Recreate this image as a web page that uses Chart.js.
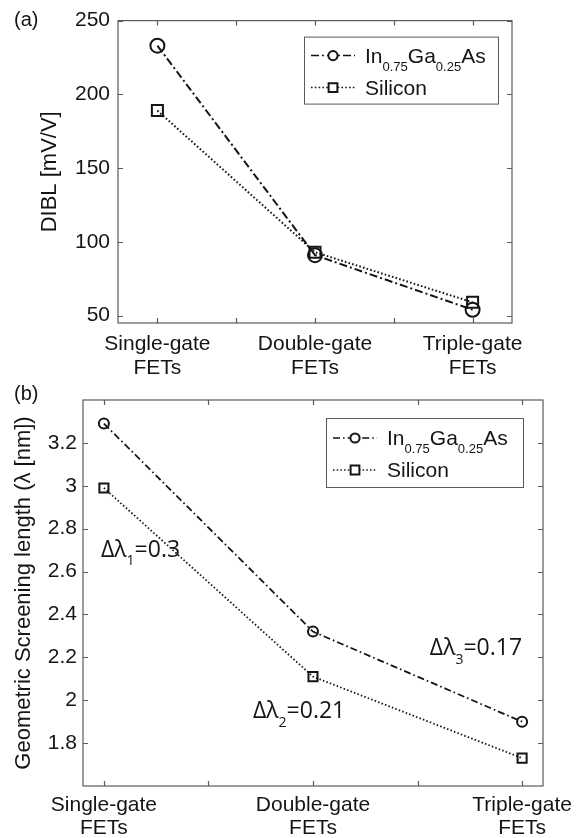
<!DOCTYPE html>
<html>
<head>
<meta charset="utf-8">
<script src="https://cdn.jsdelivr.net/npm/chart.js@4.4.1/dist/chart.umd.min.js"></script>
<style>
  html, body { margin: 0; padding: 0; background: #fff; }
  #wrap { position: relative; width: 583px; height: 838px; }
  .panel { position: absolute; left: 0; width: 583px; }
  #pa { top: 0; height: 380px; }
  #pb { top: 380px; height: 458px; }
</style>
</head>
<body>
<div id="wrap">
  <div class="panel" id="pa"><canvas id="diblChart"></canvas></div>
  <div class="panel" id="pb"><canvas id="lambdaChart"></canvas></div>
</div>
<script>
// device types, placed at x = 1, 2, 3
const devices = [['Single-gate', 'FETs'], ['Double-gate', 'FETs'], ['Triple-gate', 'FETs']];
const seriesNames = ['In0.75Ga0.25As', 'Silicon'];
const xTicks = [1, 1.5, 2, 2.5, 3];

// (a) DIBL [mV/V]
const diblInGaAs = [233, 91, 54];
const diblSilicon = [189, 93, 59];
const diblTicks = [50, 100, 150, 200, 250];

// (b) geometric screening length [nm]
const lambdaInGaAs = [3.29, 2.32, 1.90];
const lambdaSilicon = [2.99, 2.11, 1.73];
const lambdaTicks = [1.8, 2, 2.2, 2.4, 2.6, 2.8, 3, 3.2];

const FONT = "'Liberation Sans', Arial, sans-serif";
const INK = '#151515';
const FRAME = '#5a5a5a';

Chart.defaults.font.family = FONT;
Chart.defaults.color = INK;

const fmt = v => String(+v.toFixed(2));

// text with subscripts: parts = [[text, isSub], ...]
function richWidth(ctx, parts, size, family) {
  let w = 0;
  parts.forEach(([t, sub]) => {
    ctx.font = (sub ? Math.round(size * 0.62) : size) + 'px ' + family;
    w += ctx.measureText(t).width;
  });
  return w;
}
function drawRich(ctx, parts, x, y, size, family, align) {
  if (align === 'right') x -= richWidth(ctx, parts, size, family);
  ctx.textBaseline = 'alphabetic';
  ctx.textAlign = 'left';
  parts.forEach(([t, sub]) => {
    ctx.font = (sub ? Math.round(size * 0.62) : size) + 'px ' + family;
    ctx.fillText(t, x, sub ? y + size * 0.38 : y);
    x += ctx.measureText(t).width;
  });
}
// 'In0.75Ga0.25As' -> decimal numbers become subscripts
const chemParts = s => s.split(/(\d+\.\d+)/).filter(Boolean).map(t => [t, /^\d/.test(t)]);

// box around the plot area with inward ticks on all four sides
const framePlugin = {
  id: 'frame',
  afterDraw(chart, args, opts) {
    const { ctx, chartArea: a, scales: { x, y } } = chart;
    const len = opts.tickLen || 5;
    ctx.save();
    ctx.strokeStyle = FRAME;
    ctx.lineWidth = 1.2;
    ctx.strokeRect(a.left, a.top, a.right - a.left, a.bottom - a.top);
    ctx.beginPath();
    x.ticks.forEach(t => {
      const px = Math.round(x.getPixelForValue(t.value)) + 0.5;
      ctx.moveTo(px, a.bottom); ctx.lineTo(px, a.bottom - len);
      ctx.moveTo(px, a.top); ctx.lineTo(px, a.top + len);
    });
    y.ticks.forEach(t => {
      const py = Math.round(y.getPixelForValue(t.value)) + 0.5;
      ctx.moveTo(a.left, py); ctx.lineTo(a.left + len, py);
      ctx.moveTo(a.right, py); ctx.lineTo(a.right - len, py);
    });
    ctx.stroke();
    ctx.restore();
  }
};

// MATLAB-style legend box in the upper right corner
const boxLegendPlugin = {
  id: 'boxLegend',
  afterDraw(chart, args, opts) {
    const { ctx, chartArea: a } = chart;
    const left = a.right - opts.right - opts.width;
    const top = a.top + opts.top;
    ctx.save();
    ctx.fillStyle = '#fff';
    ctx.fillRect(left, top, opts.width, opts.height);
    ctx.strokeStyle = FRAME;
    ctx.lineWidth = 1;
    ctx.strokeRect(left + 0.5, top + 0.5, opts.width, opts.height);
    chart.data.datasets.forEach((ds, i) => {
      const base = top + opts.rows[i];
      const my = base - 7;
      ctx.strokeStyle = ds.borderColor;
      ctx.lineWidth = 1.5;
      ctx.setLineDash(ds.borderDash);
      ctx.beginPath();
      ctx.moveTo(left + 7, my);
      ctx.lineTo(left + 51, my);
      ctx.stroke();
      ctx.setLineDash([]);
      ctx.lineWidth = 2;
      ctx.fillStyle = '#fff';
      Chart.helpers.drawPoint(ctx, {
        pointStyle: ds.pointStyle,
        radius: ds.pointStyle === 'rect' ? 6.2 : 4.6,
        borderWidth: 2,
        rotation: 0
      }, left + 29, my);
      ctx.fillStyle = INK;
      drawRich(ctx, chemParts(ds.label), left + 61, base, 21, FONT);
    });
    ctx.restore();
  }
};

// Δλ between the two curves at each device type
const deltaPlugin = {
  id: 'deltaNotes',
  afterDraw(chart, args, opts) {
    if (!opts.items) return;
    const { ctx, scales: { x, y } } = chart;
    const [hi, lo] = chart.data.datasets;
    ctx.save();
    ctx.fillStyle = INK;
    opts.items.forEach((it, i) => {
      const d = hi.data[i].y - lo.data[i].y;
      const parts = [['Δλ', false], [String(i + 1), true], ['=' + fmt(d), false]];
      drawRich(ctx, parts, x.getPixelForValue(it.x), y.getPixelForValue(it.y), 23,
        "'Open Sans', sans-serif", it.align);
    });
    ctx.restore();
  }
};

// panel letter in the upper left corner
const letterPlugin = {
  id: 'panelLetter',
  afterDraw(chart, args, opts) {
    const { ctx } = chart;
    ctx.save();
    ctx.fillStyle = INK;
    ctx.font = '20px ' + FONT;
    ctx.textBaseline = 'middle';
    ctx.textAlign = 'left';
    ctx.fillText(opts.text, opts.x, opts.y);
    ctx.restore();
  }
};

function series(name, vals, dashed, marker, radius, width) {
  return {
    label: name,
    data: vals.map((v, i) => ({ x: i + 1, y: v })),
    borderColor: INK,
    borderWidth: width,
    borderDash: dashed,
    pointStyle: marker,
    pointRadius: radius,
    pointBorderWidth: 2,
    pointBorderColor: INK,
    pointBackgroundColor: 'rgba(0,0,0,0)',
    fill: false,
    tension: 0
  };
}

function makeChart(id, cfg) {
  return new Chart(document.getElementById(id), {
    type: 'line',
    data: { datasets: cfg.datasets },
    plugins: [framePlugin, boxLegendPlugin, deltaPlugin, letterPlugin],
    options: {
      responsive: true,
      maintainAspectRatio: false,
      animation: false,
      layout: { padding: { top: cfg.top, right: cfg.right, left: 0, bottom: 0 } },
      plugins: {
        legend: { display: false },
        tooltip: { enabled: false },
        frame: { tickLen: 5 },
        boxLegend: cfg.legend,
        deltaNotes: cfg.notes || {},
        panelLetter: cfg.letter
      },
      scales: {
        x: {
          type: 'linear',
          min: cfg.xMin, max: cfg.xMax,
          afterBuildTicks: s => { s.ticks = xTicks.map(v => ({ value: v })); },
          afterFit: s => { s.height = cfg.xHeight; },
          grid: { display: false, drawTicks: false },
          border: { display: false },
          ticks: {
            autoSkip: false, maxRotation: 0,
            padding: cfg.xPad,
            font: { size: 21, lineHeight: cfg.xLine },
            callback: v => Number.isInteger(v) ? devices[v - 1] : ''
          }
        },
        y: {
          type: 'linear',
          min: cfg.yMin, max: cfg.yMax,
          afterBuildTicks: s => { s.ticks = cfg.yTicks.map(v => ({ value: v })); },
          afterFit: s => { s.width = cfg.yWidth; },
          grid: { display: false, drawTicks: false },
          border: { display: false },
          ticks: { padding: cfg.yPad, font: { size: 21 }, callback: v => String(v) },
          title: {
            display: true, text: cfg.yTitle,
            font: { size: 22 }, padding: { top: cfg.titlePad, bottom: 0 }
          }
        }
      }
    }
  });
}

makeChart('diblChart', {
  datasets: [
    series(seriesNames[0], diblInGaAs, [8, 3, 2, 3], 'circle', 7, 2),
    series(seriesNames[1], diblSilicon, [1.6, 2.2], 'rect', 7.8, 2)
  ],
  top: 16, right: 71,
  xMin: 0.75, xMax: 3.25, xHeight: 57, xPad: 9, xLine: 1.15,
  yMin: 45, yMax: 250, yTicks: diblTicks, yWidth: 118, yPad: 8,
  yTitle: 'DIBL [mV/V]', titlePad: 37,
  legend: { right: 14, top: 16, width: 194, height: 67, rows: [26, 58] },
  letter: { text: '(a)', x: 14, y: 20 }
});

makeChart('lambdaChart', {
  datasets: [
    series(seriesNames[0], lambdaInGaAs, [7, 3, 1.6, 3], 'circle', 5, 1.8),
    series(seriesNames[1], lambdaSilicon, [1.5, 2.2], 'rect', 6.4, 1.8)
  ],
  top: 20, right: 40,
  xMin: 0.9, xMax: 3.1, xHeight: 52, xPad: 8, xLine: 1.1,
  yMin: 1.6, yMax: 3.4, yTicks: lambdaTicks, yWidth: 83, yPad: 6,
  yTitle: 'Geometric Screening length (λ [nm])', titlePad: 11,
  legend: { right: 20, top: 18, width: 197, height: 69, rows: [27, 59] },
  notes: {
    items: [
      { x: 0.986, y: 2.670, align: 'left' },
      { x: 1.713, y: 1.916, align: 'left' },
      { x: 3.0, y: 2.209, align: 'right' }
    ]
  },
  letter: { text: '(b)', x: 14, y: 14 }
});
</script>
</body>
</html>
